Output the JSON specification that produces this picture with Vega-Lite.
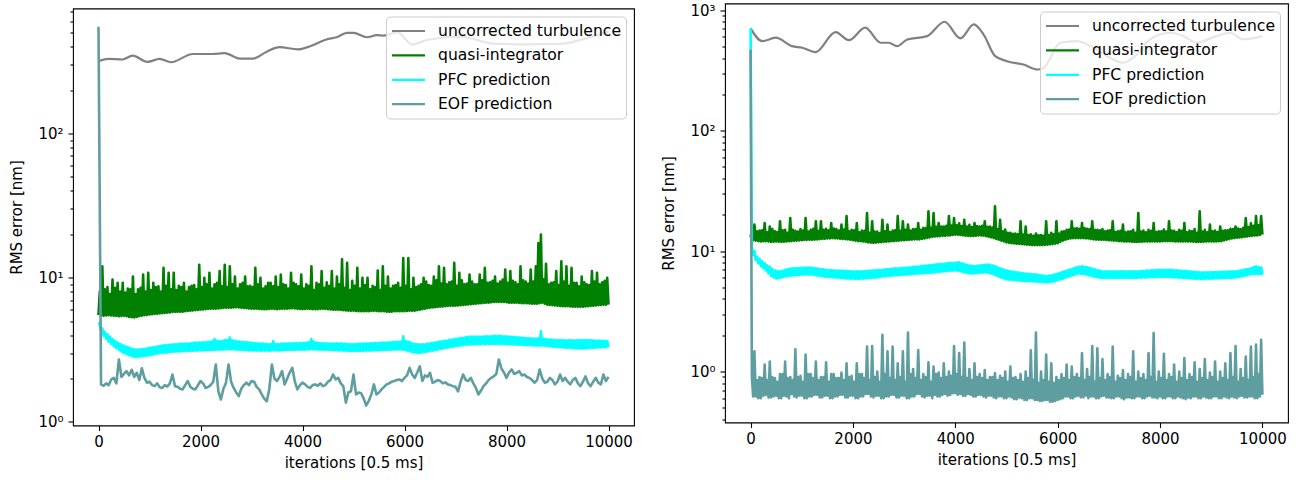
{
"$schema":"https://vega.github.io/schema/vega-lite/v6.json",
"background":"white",
"padding":{"left":9,"top":2.5,"right":5,"bottom":2},
"spacing":26,
"config":{
 "font":"DejaVu Sans",
 "view":{"stroke":"black","strokeWidth":1.1},
 "axis":{"grid":false,"domain":false,"tickColor":"black","tickWidth":1.1,"labelColor":"black","titleColor":"black","labelFontSize":15,"titleFontSize":15,"titleFontWeight":"normal","labelFont":"DejaVu Sans","titleFont":"DejaVu Sans","labelOverlap":false},
 "legend":{"orient":"top-right","offset":8,"symbolType":"M-2,0H2","symbolSize":272,"symbolStrokeWidth":2.2,"labelFontSize":15.6,"labelFont":"DejaVu Sans","labelColor":"black","labelLimit":400,"fillColor":"rgba(255,255,255,0.8)","strokeColor":"#cccccc","cornerRadius":4,"padding":5,"rowPadding":5.4,"labelOffset":20,"symbolOffset":8}
},
"resolve":{"scale":{"x":"independent","y":"independent","color":"independent"},"legend":{"color":"independent"}},
"datasets":{
"S":[{"s":1}],
"L":[
{"x":0,"u":317},{"x":200,"u":329},{"x":470,"u":326},{"x":670,"u":347},{"x":960,"u":314},{"x":1200,"u":329},{"x":1420,"u":312},{"x":1850,"u":356},{"x":2240,"u":356},{"x":2470,"u":361},{"x":2770,"u":331},{"x":3030,"u":331},{"x":3290,"u":368},{"x":3550,"u":397},{"x":3910,"u":383},{"x":4150,"u":403},{"x":4470,"u":449},{"x":4670,"u":465},{"x":4870,"u":499},{"x":5000,"u":499},{"x":5260,"u":465},{"x":5460,"u":481},{"x":5600,"u":478},{"x":5860,"u":505},{"x":6150,"u":414},{"x":6440,"u":445},{"x":7100,"u":470},{"x":7750,"u":420},{"x":8400,"u":415},{"x":9060,"u":418},{"x":9590,"u":460},{"x":9999,"u":510},
{"x":0,"q":5.5,"p":4.9,"e":550},{"x":25,"q":8.0,"p":4.75},{"x":50,"q":5.48,"p":4.3,"e":1.82},{"x":75,"q":12.0,"p":4.45},
{"x":100,"q":5.45,"p":3.95,"e":1.78},{"x":125,"q":8.3,"p":4.2},{"x":150,"q":5.47,"p":3.78,"e":1.85},{"x":175,"q":8.6,"p":4.05},
{"x":200,"q":5.5,"p":3.6,"e":1.8},{"x":225,"q":7.7,"p":3.9},{"x":250,"q":5.47,"p":3.48,"e":1.97},{"x":275,"q":9.7,"p":3.75},
{"x":300,"q":5.45,"p":3.35,"e":2.02},{"x":325,"q":8.5,"p":3.65},{"x":350,"q":5.42,"p":3.25,"e":1.85},{"x":375,"q":9.2,"p":3.55},
{"x":400,"q":5.4,"p":3.15,"e":2.71},{"x":425,"q":8.0,"p":3.48},{"x":450,"q":5.42,"p":3.07,"e":2.05},{"x":475,"q":9.2,"p":3.4},
{"x":500,"q":5.45,"p":3.0,"e":2.15},{"x":525,"q":7.9,"p":3.35},{"x":550,"q":5.4,"p":2.95,"e":2.25},{"x":575,"q":8.4,"p":3.3},
{"x":600,"q":5.35,"p":2.9,"e":2.1},{"x":625,"q":8.3,"p":3.25},{"x":650,"q":5.32,"p":2.86,"e":2.3},{"x":675,"q":10.2,"p":3.2},
{"x":700,"q":5.3,"p":2.82,"e":2.05},{"x":725,"q":7.7,"p":3.18},{"x":750,"q":5.35,"p":2.82,"e":2.19},{"x":775,"q":8.3,"p":3.18},
{"x":800,"q":5.4,"p":2.83,"e":1.95},{"x":825,"q":8.5,"p":3.19},{"x":850,"q":5.45,"p":2.85,"e":2.35},{"x":875,"q":10.5,"p":3.2},
{"x":900,"q":5.5,"p":2.86,"e":2.02},{"x":925,"q":8.0,"p":3.22},{"x":950,"q":5.52,"p":2.88,"e":1.87},{"x":975,"q":10.8,"p":3.25},
{"x":1000,"q":5.55,"p":2.9,"e":1.9},{"x":1025,"q":8.2,"p":3.28},{"x":1050,"q":5.58,"p":2.92,"e":1.8},{"x":1075,"q":9.2,"p":3.3},
{"x":1100,"q":5.6,"p":2.95,"e":1.77},{"x":1125,"q":8.6,"p":3.32},{"x":1150,"q":5.62,"p":2.97,"e":1.85},{"x":1175,"q":8.7,"p":3.35},
{"x":1200,"q":5.65,"p":3.0,"e":1.74},{"x":1225,"q":8.0,"p":3.37},{"x":1250,"q":5.68,"p":3.01,"e":1.72},{"x":1275,"q":11.7,"p":3.4},
{"x":1300,"q":5.7,"p":3.02,"e":1.8},{"x":1325,"q":8.8,"p":3.41},{"x":1350,"q":5.72,"p":3.03,"e":1.76},{"x":1375,"q":10.8,"p":3.42},
{"x":1400,"q":5.75,"p":3.05,"e":1.85},{"x":1425,"q":8.3,"p":3.44},{"x":1450,"q":5.78,"p":3.06,"e":2.13},{"x":1475,"q":10.8,"p":3.45},
{"x":1500,"q":5.8,"p":3.07,"e":1.77},{"x":1525,"q":8.2,"p":3.46},{"x":1550,"q":5.8,"p":3.07,"e":1.75},{"x":1575,"q":8.8,"p":3.48},
{"x":1600,"q":5.8,"p":3.08,"e":1.7},{"x":1625,"q":8.6,"p":3.49},{"x":1650,"q":5.82,"p":3.09,"e":1.68},{"x":1675,"q":9.2,"p":3.5},
{"x":1700,"q":5.85,"p":3.1,"e":1.8},{"x":1725,"q":8.0,"p":3.5},{"x":1750,"q":5.88,"p":3.1,"e":1.92},{"x":1775,"q":8.6,"p":3.5},
{"x":1800,"q":5.9,"p":3.1,"e":1.75},{"x":1825,"q":8.8,"p":3.52},{"x":1850,"q":5.92,"p":3.11,"e":1.7},{"x":1875,"q":8.9,"p":3.55},
{"x":1900,"q":5.95,"p":3.12,"e":1.68},{"x":1925,"q":8.3,"p":3.55},{"x":1950,"q":5.98,"p":3.12,"e":1.8},{"x":1975,"q":12.3,"p":3.55},
{"x":2000,"q":6.0,"p":3.13,"e":1.92},{"x":2025,"q":8.6,"p":3.56},{"x":2050,"q":6.02,"p":3.13,"e":1.85},{"x":2075,"q":10.0,"p":3.57},
{"x":2100,"q":6.05,"p":3.14,"e":1.72},{"x":2125,"q":9.0,"p":3.58},{"x":2150,"q":6.08,"p":3.14,"e":1.75},{"x":2175,"q":10.8,"p":3.6},
{"x":2200,"q":6.1,"p":3.15,"e":1.8},{"x":2225,"q":8.4,"p":3.62},{"x":2250,"q":6.1,"p":3.15,"e":1.9},{"x":2275,"q":9.0,"p":3.75},
{"x":2300,"q":6.1,"p":3.16,"e":2.5},{"x":2325,"q":9.2,"p":3.65},{"x":2350,"q":6.12,"p":3.16,"e":1.63},{"x":2375,"q":11.1,"p":3.62},
{"x":2400,"q":6.15,"p":3.17,"e":1.43},{"x":2425,"q":8.7,"p":3.64},{"x":2450,"q":6.18,"p":3.17,"e":1.7},{"x":2475,"q":12.3,"p":3.7},
{"x":2500,"q":6.2,"p":3.18,"e":1.87},{"x":2525,"q":8.6,"p":3.7},{"x":2550,"q":6.2,"p":3.18,"e":2.5},{"x":2575,"q":12.0,"p":3.85},
{"x":2600,"q":6.2,"p":3.18,"e":1.9},{"x":2625,"q":9.0,"p":3.68},{"x":2650,"q":6.22,"p":3.18,"e":1.72},{"x":2675,"q":10.2,"p":3.65},
{"x":2700,"q":6.25,"p":3.17,"e":1.6},{"x":2725,"q":8.4,"p":3.62},{"x":2750,"q":6.22,"p":3.16,"e":1.51},{"x":2775,"q":9.0,"p":3.6},
{"x":2800,"q":6.2,"p":3.15,"e":1.7},{"x":2825,"q":9.2,"p":3.59},{"x":2850,"q":6.18,"p":3.15,"e":1.8},{"x":2875,"q":10.2,"p":3.58},
{"x":2900,"q":6.15,"p":3.14,"e":1.87},{"x":2925,"q":8.7,"p":3.56},{"x":2950,"q":6.12,"p":3.13,"e":1.8},{"x":2975,"q":8.8,"p":3.55},
{"x":3000,"q":6.1,"p":3.13,"e":1.92},{"x":3025,"q":8.6,"p":3.53},{"x":3050,"q":6.1,"p":3.12,"e":1.9},{"x":3075,"q":11.7,"p":3.52},
{"x":3100,"q":6.1,"p":3.12,"e":1.75},{"x":3125,"q":9.0,"p":3.51},{"x":3150,"q":6.08,"p":3.12,"e":1.68},{"x":3175,"q":10.0,"p":3.5},
{"x":3200,"q":6.05,"p":3.12,"e":1.55},{"x":3225,"q":8.4,"p":3.49},{"x":3250,"q":6.05,"p":3.12,"e":1.45},{"x":3275,"q":8.7,"p":3.48},
{"x":3300,"q":6.05,"p":3.12,"e":1.39},{"x":3325,"q":9.2,"p":3.47},{"x":3350,"q":6.08,"p":3.12,"e":1.7},{"x":3375,"q":9.2,"p":3.47},
{"x":3400,"q":6.1,"p":3.13,"e":2.5},{"x":3425,"q":8.7,"p":3.62},{"x":3450,"q":6.08,"p":3.13,"e":2.0},{"x":3475,"q":10.2,"p":3.47},
{"x":3500,"q":6.05,"p":3.13,"e":1.92},{"x":3525,"q":8.6,"p":3.47},{"x":3550,"q":6.08,"p":3.13,"e":2.05},{"x":3575,"q":10.5,"p":3.48},
{"x":3600,"q":6.1,"p":3.14,"e":2.25},{"x":3625,"q":9.0,"p":3.49},{"x":3650,"q":6.1,"p":3.14,"e":1.82},{"x":3675,"q":8.9,"p":3.5},
{"x":3700,"q":6.1,"p":3.15,"e":2.0},{"x":3725,"q":8.4,"p":3.5},{"x":3750,"q":6.12,"p":3.15,"e":2.2},{"x":3775,"q":10.8,"p":3.5},
{"x":3800,"q":6.15,"p":3.15,"e":2.37},{"x":3825,"q":9.2,"p":3.51},{"x":3850,"q":6.12,"p":3.15,"e":1.9},{"x":3875,"q":9.0,"p":3.52},
{"x":3900,"q":6.1,"p":3.16,"e":1.68},{"x":3925,"q":8.7,"p":3.52},{"x":3950,"q":6.08,"p":3.16,"e":1.8},{"x":3975,"q":10.5,"p":3.52},
{"x":4000,"q":6.05,"p":3.17,"e":1.87},{"x":4025,"q":8.4,"p":3.54},{"x":4050,"q":6.08,"p":3.17,"e":1.82},{"x":4075,"q":9.0,"p":3.55},
{"x":4100,"q":6.1,"p":3.18,"e":1.75},{"x":4125,"q":8.8,"p":3.56},{"x":4150,"q":6.08,"p":3.18,"e":1.72},{"x":4175,"q":12.0,"p":3.75},
{"x":4200,"q":6.05,"p":3.18,"e":1.8},{"x":4225,"q":8.2,"p":3.6},{"x":4250,"q":6.05,"p":3.18,"e":1.82},{"x":4275,"q":9.2,"p":3.55},
{"x":4300,"q":6.05,"p":3.17,"e":1.78},{"x":4325,"q":9.0,"p":3.53},{"x":4350,"q":6.08,"p":3.17,"e":1.85},{"x":4375,"q":11.1,"p":3.52},
{"x":4400,"q":6.1,"p":3.16,"e":1.77},{"x":4425,"q":8.5,"p":3.51},{"x":4450,"q":6.08,"p":3.16,"e":1.8},{"x":4475,"q":9.3,"p":3.5},
{"x":4500,"q":6.05,"p":3.15,"e":1.9},{"x":4525,"q":8.8,"p":3.5},{"x":4550,"q":6.02,"p":3.15,"e":1.95},{"x":4575,"q":11.1,"p":3.5},
{"x":4600,"q":6.0,"p":3.14,"e":2.13},{"x":4625,"q":8.4,"p":3.5},{"x":4650,"q":6.0,"p":3.14,"e":1.97},{"x":4675,"q":10.2,"p":3.5},
{"x":4700,"q":6.0,"p":3.13,"e":2.02},{"x":4725,"q":9.0,"p":3.5},{"x":4750,"q":5.98,"p":3.13,"e":1.85},{"x":4775,"q":13.4,"p":3.5},
{"x":4800,"q":5.95,"p":3.12,"e":1.77},{"x":4825,"q":8.5,"p":3.49},{"x":4850,"q":5.92,"p":3.11,"e":1.36},{"x":4875,"q":12.7,"p":3.48},
{"x":4900,"q":5.9,"p":3.1,"e":1.6},{"x":4925,"q":8.2,"p":3.47},{"x":4950,"q":5.9,"p":3.1,"e":1.63},{"x":4975,"q":9.5,"p":3.47},
{"x":5000,"q":5.9,"p":3.1,"e":2.13},{"x":5025,"q":8.8,"p":3.47},{"x":5050,"q":5.88,"p":3.1,"e":1.55},{"x":5075,"q":11.7,"p":3.48},
{"x":5100,"q":5.85,"p":3.1,"e":1.6},{"x":5125,"q":8.4,"p":3.49},{"x":5150,"q":5.85,"p":3.1,"e":1.58},{"x":5175,"q":10.0,"p":3.5},
{"x":5200,"q":5.85,"p":3.11,"e":1.45},{"x":5225,"q":8.9,"p":3.5},{"x":5250,"q":5.85,"p":3.11,"e":1.3},{"x":5275,"q":10.0,"p":3.5},
{"x":5300,"q":5.85,"p":3.12,"e":1.4},{"x":5325,"q":8.3,"p":3.51},{"x":5350,"q":5.88,"p":3.12,"e":1.55},{"x":5375,"q":8.8,"p":3.52},
{"x":5400,"q":5.9,"p":3.13,"e":1.82},{"x":5425,"q":8.6,"p":3.52},{"x":5450,"q":5.88,"p":3.13,"e":1.55},{"x":5475,"q":11.2,"p":3.52},
{"x":5500,"q":5.85,"p":3.14,"e":1.6},{"x":5525,"q":8.2,"p":3.54},{"x":5550,"q":5.85,"p":3.14,"e":1.68},{"x":5575,"q":12.0,"p":3.55},
{"x":5600,"q":5.85,"p":3.15,"e":1.75},{"x":5625,"q":8.8,"p":3.55},{"x":5650,"q":5.82,"p":3.15,"e":1.82},{"x":5675,"q":10.2,"p":3.55},
{"x":5700,"q":5.8,"p":3.16,"e":1.85},{"x":5725,"q":8.4,"p":3.57},{"x":5750,"q":5.82,"p":3.16,"e":1.9},{"x":5775,"q":8.8,"p":3.58},
{"x":5800,"q":5.85,"p":3.17,"e":1.92},{"x":5825,"q":8.9,"p":3.59},{"x":5850,"q":5.85,"p":3.17,"e":1.95},{"x":5875,"q":9.2,"p":3.6},
{"x":5900,"q":5.85,"p":3.18,"e":1.97},{"x":5925,"q":8.5,"p":3.6},{"x":5950,"q":5.85,"p":3.17,"e":1.92},{"x":5975,"q":13.7,"p":3.93},
{"x":6000,"q":5.85,"p":3.15,"e":2.02},{"x":6025,"q":8.8,"p":3.62},{"x":6050,"q":5.88,"p":3.12,"e":2.1},{"x":6075,"q":13.7,"p":3.6},
{"x":6100,"q":5.9,"p":3.08,"e":2.37},{"x":6125,"q":8.3,"p":3.55},{"x":6150,"q":5.9,"p":3.05,"e":2.13},{"x":6175,"q":10.0,"p":3.5},
{"x":6200,"q":5.9,"p":3.02,"e":2.02},{"x":6225,"q":8.6,"p":3.47},{"x":6250,"q":5.95,"p":3.01,"e":2.2},{"x":6275,"q":8.8,"p":3.45},
{"x":6300,"q":6.0,"p":3.01,"e":2.43},{"x":6325,"q":9.0,"p":3.45},{"x":6350,"q":6.05,"p":3.03,"e":1.92},{"x":6375,"q":10.0,"p":3.45},
{"x":6400,"q":6.1,"p":3.05,"e":2.1},{"x":6425,"q":9.4,"p":3.47},{"x":6450,"q":6.15,"p":3.07,"e":2.05},{"x":6475,"q":8.9,"p":3.5},
{"x":6500,"q":6.2,"p":3.1,"e":2.19},{"x":6525,"q":8.8,"p":3.52},{"x":6550,"q":6.22,"p":3.12,"e":1.87},{"x":6575,"q":10.2,"p":3.55},
{"x":6600,"q":6.25,"p":3.15,"e":1.9},{"x":6625,"q":9.6,"p":3.57},{"x":6650,"q":6.28,"p":3.17,"e":1.95},{"x":6675,"q":12.0,"p":3.6},
{"x":6700,"q":6.3,"p":3.2,"e":1.92},{"x":6725,"q":9.1,"p":3.62},{"x":6750,"q":6.32,"p":3.22,"e":1.85},{"x":6775,"q":11.7,"p":3.65},
{"x":6800,"q":6.35,"p":3.25,"e":1.88},{"x":6825,"q":9.0,"p":3.67},{"x":6850,"q":6.38,"p":3.27,"e":1.82},{"x":6875,"q":9.3,"p":3.7},
{"x":6900,"q":6.4,"p":3.3,"e":1.8},{"x":6925,"q":9.4,"p":3.72},{"x":6950,"q":6.4,"p":3.32,"e":1.77},{"x":6975,"q":12.7,"p":3.75},
{"x":7000,"q":6.4,"p":3.35,"e":1.75},{"x":7025,"q":8.8,"p":3.77},{"x":7050,"q":6.42,"p":3.37,"e":1.63},{"x":7075,"q":10.8,"p":3.8},
{"x":7100,"q":6.45,"p":3.38,"e":1.9},{"x":7125,"q":9.6,"p":3.82},{"x":7150,"q":6.48,"p":3.4,"e":2.13},{"x":7175,"q":9.0,"p":3.85},
{"x":7200,"q":6.5,"p":3.42,"e":1.95},{"x":7225,"q":9.1,"p":3.87},{"x":7250,"q":6.52,"p":3.43,"e":1.92},{"x":7275,"q":10.5,"p":3.9},
{"x":7300,"q":6.55,"p":3.44,"e":2.02},{"x":7325,"q":9.4,"p":3.9},{"x":7350,"q":6.58,"p":3.44,"e":1.85},{"x":7375,"q":9.0,"p":3.9},
{"x":7400,"q":6.6,"p":3.45,"e":1.72},{"x":7425,"q":9.0,"p":3.9},{"x":7450,"q":6.62,"p":3.45,"e":1.55},{"x":7475,"q":10.5,"p":3.9},
{"x":7500,"q":6.65,"p":3.46,"e":1.65},{"x":7525,"q":9.6,"p":3.91},{"x":7550,"q":6.68,"p":3.46,"e":1.77},{"x":7575,"q":11.7,"p":3.92},
{"x":7600,"q":6.7,"p":3.46,"e":1.85},{"x":7625,"q":9.2,"p":3.92},{"x":7650,"q":6.72,"p":3.46,"e":1.95},{"x":7675,"q":9.3,"p":3.92},
{"x":7700,"q":6.75,"p":3.47,"e":2.02},{"x":7725,"q":9.5,"p":3.94},{"x":7750,"q":6.78,"p":3.47,"e":2.07},{"x":7775,"q":10.2,"p":3.95},
{"x":7800,"q":6.8,"p":3.47,"e":2.15},{"x":7825,"q":9.1,"p":3.95},{"x":7850,"q":6.8,"p":3.47,"e":2.71},{"x":7875,"q":9.4,"p":3.95},
{"x":7900,"q":6.8,"p":3.46,"e":2.35},{"x":7925,"q":9.7,"p":3.93},{"x":7950,"q":6.78,"p":3.46,"e":2.2},{"x":7975,"q":11.4,"p":3.92},
{"x":8000,"q":6.75,"p":3.45,"e":2.02},{"x":8025,"q":9.2,"p":3.91},{"x":8050,"q":6.72,"p":3.45,"e":2.2},{"x":8075,"q":11.1,"p":3.9},
{"x":8100,"q":6.7,"p":3.44,"e":2.31},{"x":8125,"q":9.5,"p":3.89},{"x":8150,"q":6.7,"p":3.44,"e":2.15},{"x":8175,"q":9.3,"p":3.88},
{"x":8200,"q":6.7,"p":3.43,"e":2.19},{"x":8225,"q":9.0,"p":3.86},{"x":8250,"q":6.68,"p":3.43,"e":2.25},{"x":8275,"q":12.0,"p":3.85},
{"x":8300,"q":6.65,"p":3.42,"e":2.1},{"x":8325,"q":9.6,"p":3.83},{"x":8350,"q":6.65,"p":3.41,"e":2.13},{"x":8375,"q":9.4,"p":3.82},
{"x":8400,"q":6.65,"p":3.4,"e":2.05},{"x":8425,"q":9.1,"p":3.81},{"x":8450,"q":6.62,"p":3.4,"e":2.02},{"x":8475,"q":11.4,"p":3.8},
{"x":8500,"q":6.6,"p":3.39,"e":1.95},{"x":8525,"q":9.4,"p":3.79},{"x":8550,"q":6.6,"p":3.39,"e":1.87},{"x":8575,"q":12.0,"p":3.78},
{"x":8600,"q":6.6,"p":3.38,"e":1.95},{"x":8625,"q":17.4,"p":3.8},{"x":8650,"q":6.65,"p":3.38,"e":2.31},{"x":8675,"q":19.9,"p":4.25},
{"x":8700,"q":6.7,"p":3.38,"e":2.0},{"x":8725,"q":9.8,"p":3.77},{"x":8750,"q":6.6,"p":3.37,"e":1.87},{"x":8775,"q":12.5,"p":3.75},
{"x":8800,"q":6.5,"p":3.35,"e":1.9},{"x":8825,"q":9.0,"p":3.73},{"x":8850,"q":6.48,"p":3.34,"e":2.02},{"x":8875,"q":9.2,"p":3.72},
{"x":8900,"q":6.45,"p":3.32,"e":1.95},{"x":8925,"q":9.3,"p":3.71},{"x":8950,"q":6.42,"p":3.31,"e":1.82},{"x":8975,"q":11.1,"p":3.7},
{"x":9000,"q":6.4,"p":3.3,"e":1.9},{"x":9025,"q":8.9,"p":3.7},{"x":9050,"q":6.38,"p":3.29,"e":2.13},{"x":9075,"q":13.0,"p":3.7},
{"x":9100,"q":6.35,"p":3.28,"e":1.92},{"x":9125,"q":9.4,"p":3.69},{"x":9150,"q":6.35,"p":3.27,"e":2.02},{"x":9175,"q":12.0,"p":3.68},
{"x":9200,"q":6.35,"p":3.26,"e":1.9},{"x":9225,"q":8.8,"p":3.68},{"x":9250,"q":6.32,"p":3.25,"e":1.82},{"x":9275,"q":11.7,"p":3.68},
{"x":9300,"q":6.3,"p":3.24,"e":1.95},{"x":9325,"q":9.2,"p":3.68},{"x":9350,"q":6.3,"p":3.23,"e":2.02},{"x":9375,"q":9.2,"p":3.68},
{"x":9400,"q":6.3,"p":3.22,"e":1.85},{"x":9425,"q":8.7,"p":3.69},{"x":9450,"q":6.3,"p":3.22,"e":1.77},{"x":9475,"q":10.2,"p":3.7},
{"x":9500,"q":6.3,"p":3.22,"e":1.9},{"x":9525,"q":9.3,"p":3.7},{"x":9550,"q":6.32,"p":3.23,"e":2.07},{"x":9575,"q":9.0,"p":3.7},
{"x":9600,"q":6.35,"p":3.24,"e":1.85},{"x":9625,"q":8.9,"p":3.69},{"x":9650,"q":6.38,"p":3.25,"e":1.77},{"x":9675,"q":11.1,"p":3.68},
{"x":9700,"q":6.4,"p":3.26,"e":1.9},{"x":9725,"q":9.4,"p":3.67},{"x":9750,"q":6.42,"p":3.27,"e":2.02},{"x":9775,"q":10.8,"p":3.66},
{"x":9800,"q":6.45,"p":3.28,"e":1.87},{"x":9825,"q":9.0,"p":3.66},{"x":9850,"q":6.48,"p":3.29,"e":1.82},{"x":9875,"q":9.3,"p":3.65},
{"x":9900,"q":6.5,"p":3.3,"e":2.13},{"x":9925,"q":9.5,"p":3.65},{"x":9950,"q":6.5,"p":3.3,"e":1.92},{"x":9975,"q":10.0,"p":3.64},
{"x":10000,"q":6.5,"p":3.3,"e":2.05}
],
"R":[
{"x":0,"u":706},{"x":230,"u":553},{"x":490,"u":591},{"x":810,"u":503},{"x":1010,"u":488},{"x":1270,"u":449},{"x":1660,"u":658},{"x":1920,"u":564},{"x":2240,"u":716},{"x":2540,"u":537},{"x":2700,"u":537},{"x":2860,"u":503},{"x":3060,"u":572},{"x":3450,"u":609},{"x":3790,"u":802},{"x":4100,"u":583},{"x":4360,"u":762},{"x":4550,"u":630},{"x":4780,"u":415},{"x":5010,"u":377},{"x":5330,"u":354},{"x":5600,"u":322},{"x":5720,"u":330},{"x":6050,"u":537},{"x":6370,"u":553},{"x":6760,"u":472},{"x":7020,"u":403},{"x":7280,"u":366},{"x":7550,"u":429},{"x":7800,"u":572},{"x":8200,"u":650},{"x":8460,"u":609},{"x":8710,"u":537},{"x":9100,"u":609},{"x":9370,"u":650},{"x":9630,"u":572},{"x":9999,"u":609},
{"x":0,"q":13,"p":700,"e":470},{"x":25,"q":15,"p":11,"e":0.9},{"x":50,"q":12.3,"p":9.3,"e":0.62},{"x":75,"q":16.6,"p":10.0,"e":1.47},
{"x":100,"q":12.2,"p":8.4,"e":0.62},{"x":125,"q":14.6,"p":9.0,"e":0.85},{"x":150,"q":12.1,"p":7.9,"e":0.6},{"x":175,"q":14.8,"p":8.6,"e":0.9},
{"x":200,"q":12.0,"p":7.5,"e":0.6},{"x":225,"q":14.9,"p":8.2,"e":0.88},{"x":250,"q":12.05,"p":7.2,"e":0.63},{"x":275,"q":17.1,"p":7.9,"e":1.14},
{"x":300,"q":12.1,"p":6.9,"e":0.64},{"x":325,"q":14.3,"p":7.6,"e":0.85},{"x":350,"q":12.0,"p":6.55,"e":0.61},{"x":375,"q":16.0,"p":7.4,"e":1.21},
{"x":400,"q":11.9,"p":6.2,"e":0.61},{"x":425,"q":15.2,"p":7.1,"e":0.9},{"x":450,"q":11.95,"p":6.05,"e":0.62},{"x":475,"q":14.6,"p":6.9,"e":0.88},
{"x":500,"q":12.0,"p":5.9,"e":0.63},{"x":525,"q":14.4,"p":6.85,"e":0.82},{"x":550,"q":11.95,"p":5.95,"e":0.6},{"x":575,"q":17.7,"p":6.8,"e":0.95},
{"x":600,"q":11.9,"p":6.0,"e":0.6},{"x":625,"q":14.9,"p":6.9,"e":0.95},{"x":650,"q":11.95,"p":6.08,"e":0.63},{"x":675,"q":15.0,"p":7.0,"e":1.21},
{"x":700,"q":12.0,"p":6.15,"e":0.62},{"x":725,"q":14.2,"p":7.08,"e":0.88},{"x":750,"q":12.05,"p":6.2,"e":0.6},{"x":775,"q":18.8,"p":7.15,"e":0.9},
{"x":800,"q":12.1,"p":6.25,"e":0.65},{"x":825,"q":15.0,"p":7.2,"e":0.85},{"x":850,"q":12.15,"p":6.28,"e":0.62},{"x":875,"q":14.7,"p":7.23,"e":1.53},
{"x":900,"q":12.2,"p":6.3,"e":0.61},{"x":925,"q":14.5,"p":7.24,"e":0.9},{"x":950,"q":12.25,"p":6.32,"e":0.63},{"x":975,"q":15.2,"p":7.25,"e":0.92},
{"x":1000,"q":12.3,"p":6.35,"e":0.63},{"x":1025,"q":14.8,"p":7.28,"e":0.82},{"x":1050,"q":12.35,"p":6.38,"e":0.6},{"x":1075,"q":18.8,"p":7.3,"e":1.38},
{"x":1100,"q":12.4,"p":6.4,"e":0.6},{"x":1125,"q":14.5,"p":7.3,"e":0.95},{"x":1150,"q":12.4,"p":6.38,"e":0.62},{"x":1175,"q":15.0,"p":7.3,"e":0.95},
{"x":1200,"q":12.4,"p":6.35,"e":0.62},{"x":1225,"q":15.3,"p":7.25,"e":0.88},{"x":1250,"q":12.45,"p":6.3,"e":0.64},{"x":1275,"q":17.7,"p":7.2,"e":1.21},
{"x":1300,"q":12.5,"p":6.25,"e":0.64},{"x":1325,"q":14.7,"p":7.15,"e":0.85},{"x":1350,"q":12.55,"p":6.2,"e":0.61},{"x":1375,"q":17.7,"p":7.1,"e":0.9},
{"x":1400,"q":12.6,"p":6.15,"e":0.61},{"x":1425,"q":15.0,"p":7.05,"e":0.9},{"x":1450,"q":12.65,"p":6.12,"e":0.63},{"x":1475,"q":15.3,"p":7.0,"e":1.19},
{"x":1500,"q":12.7,"p":6.1,"e":0.63},{"x":1525,"q":14.9,"p":6.97,"e":0.82},{"x":1550,"q":12.75,"p":6.08,"e":0.6},{"x":1575,"q":17.1,"p":6.95,"e":0.95},
{"x":1600,"q":12.8,"p":6.05,"e":0.6},{"x":1625,"q":15.4,"p":6.92,"e":0.95},{"x":1650,"q":12.75,"p":6.02,"e":0.62},{"x":1675,"q":15.2,"p":6.9,"e":0.88},
{"x":1700,"q":12.7,"p":6.0,"e":0.62},{"x":1725,"q":14.8,"p":6.89,"e":0.88},{"x":1750,"q":12.65,"p":5.98,"e":0.64},{"x":1775,"q":16.6,"p":6.88,"e":0.98},
{"x":1800,"q":12.6,"p":5.95,"e":0.64},{"x":1825,"q":15.1,"p":6.86,"e":0.85},{"x":1850,"q":12.55,"p":5.92,"e":0.61},{"x":1875,"q":19.5,"p":6.85,"e":1.17},
{"x":1900,"q":12.5,"p":5.9,"e":0.61},{"x":1925,"q":14.6,"p":6.82,"e":0.9},{"x":1950,"q":12.4,"p":5.89,"e":0.63},{"x":1975,"q":15.0,"p":6.8,"e":0.92},
{"x":2000,"q":12.3,"p":5.88,"e":0.63},{"x":2025,"q":14.9,"p":6.79,"e":0.82},{"x":2050,"q":12.2,"p":5.87,"e":0.6},{"x":2075,"q":17.1,"p":6.78,"e":1.17},
{"x":2100,"q":12.1,"p":5.86,"e":0.6},{"x":2125,"q":14.3,"p":6.79,"e":0.95},{"x":2150,"q":12.05,"p":5.88,"e":0.62},{"x":2175,"q":14.8,"p":6.8,"e":0.95},
{"x":2200,"q":12.0,"p":5.9,"e":0.62},{"x":2225,"q":14.7,"p":6.82,"e":0.88},{"x":2250,"q":11.9,"p":5.92,"e":0.65},{"x":2275,"q":20.7,"p":6.85,"e":1.61},
{"x":2300,"q":11.8,"p":5.95,"e":0.65},{"x":2325,"q":14.2,"p":6.88,"e":0.85},{"x":2350,"q":11.75,"p":5.98,"e":0.62},{"x":2375,"q":17.7,"p":6.9,"e":1.63},
{"x":2400,"q":11.7,"p":6.0,"e":0.61},{"x":2425,"q":14.5,"p":6.92,"e":0.9},{"x":2450,"q":11.75,"p":6.02,"e":0.63},{"x":2475,"q":14.5,"p":6.95,"e":1.0},
{"x":2500,"q":11.8,"p":6.05,"e":0.63},{"x":2525,"q":14.1,"p":6.97,"e":0.82},{"x":2550,"q":11.85,"p":6.1,"e":0.6},{"x":2575,"q":18.2,"p":7.0,"e":2.02},
{"x":2600,"q":11.9,"p":6.15,"e":0.6},{"x":2625,"q":14.6,"p":7.05,"e":0.95},{"x":2650,"q":11.95,"p":6.18,"e":0.62},{"x":2675,"q":16.6,"p":7.1,"e":1.47},
{"x":2700,"q":12.0,"p":6.2,"e":0.62},{"x":2725,"q":14.4,"p":7.12,"e":0.88},{"x":2750,"q":12.05,"p":6.22,"e":0.64},{"x":2775,"q":14.8,"p":7.15,"e":1.61},
{"x":2800,"q":12.1,"p":6.25,"e":0.64},{"x":2825,"q":14.9,"p":7.18,"e":0.85},{"x":2850,"q":12.15,"p":6.28,"e":0.61},{"x":2875,"q":19.5,"p":7.2,"e":1.17},
{"x":2900,"q":12.2,"p":6.3,"e":0.61},{"x":2925,"q":14.7,"p":7.22,"e":0.9},{"x":2950,"q":12.25,"p":6.32,"e":0.63},{"x":2975,"q":17.7,"p":7.25,"e":1.47},
{"x":3000,"q":12.3,"p":6.35,"e":0.63},{"x":3025,"q":15.0,"p":7.28,"e":0.82},{"x":3050,"q":12.35,"p":6.38,"e":0.6},{"x":3075,"q":16.6,"p":7.3,"e":2.11},
{"x":3100,"q":12.4,"p":6.4,"e":0.6},{"x":3125,"q":14.8,"p":7.35,"e":0.95},{"x":3150,"q":12.45,"p":6.42,"e":0.62},{"x":3175,"q":15.2,"p":7.4,"e":1.05},
{"x":3200,"q":12.5,"p":6.45,"e":0.62},{"x":3225,"q":15.2,"p":7.42,"e":0.88},{"x":3250,"q":12.5,"p":6.48,"e":0.65},{"x":3275,"q":17.1,"p":7.45,"e":1.51},
{"x":3300,"q":12.5,"p":6.5,"e":0.65},{"x":3325,"q":15.0,"p":7.5,"e":0.85},{"x":3350,"q":12.6,"p":6.52,"e":0.62},{"x":3375,"q":15.6,"p":7.55,"e":0.95},
{"x":3400,"q":12.7,"p":6.55,"e":0.61},{"x":3425,"q":15.5,"p":7.58,"e":0.9},{"x":3450,"q":12.85,"p":6.57,"e":0.63},{"x":3475,"q":21.4,"p":7.6,"e":1.19},
{"x":3500,"q":13.0,"p":6.58,"e":0.63},{"x":3525,"q":15.6,"p":7.65,"e":0.82},{"x":3550,"q":13.1,"p":6.6,"e":0.6},{"x":3575,"q":20.7,"p":7.7,"e":1.1},
{"x":3600,"q":13.2,"p":6.65,"e":0.64},{"x":3625,"q":15.9,"p":7.75,"e":0.95},{"x":3650,"q":13.25,"p":6.68,"e":0.62},{"x":3675,"q":17.1,"p":7.8,"e":0.98},
{"x":3700,"q":13.3,"p":6.7,"e":0.62},{"x":3725,"q":16.0,"p":7.82,"e":0.88},{"x":3750,"q":13.35,"p":6.75,"e":0.64},{"x":3775,"q":16.0,"p":7.85,"e":1.17},
{"x":3800,"q":13.4,"p":6.8,"e":0.65},{"x":3825,"q":16.2,"p":7.9,"e":0.9},{"x":3850,"q":13.45,"p":6.82,"e":0.63},{"x":3875,"q":19.5,"p":7.95,"e":1.0},
{"x":3900,"q":13.5,"p":6.85,"e":0.64},{"x":3925,"q":16.3,"p":7.98,"e":0.92},{"x":3950,"q":13.6,"p":6.88,"e":0.66},{"x":3975,"q":18.8,"p":8.0,"e":1.63},
{"x":4000,"q":13.7,"p":6.9,"e":0.66},{"x":4025,"q":16.4,"p":8.03,"e":0.95},{"x":4050,"q":13.65,"p":6.85,"e":0.64},{"x":4075,"q":17.0,"p":8.06,"e":1.42},
{"x":4100,"q":13.6,"p":6.8,"e":0.65},{"x":4125,"q":16.1,"p":7.9,"e":0.9},{"x":4150,"q":13.5,"p":6.7,"e":0.63},{"x":4175,"q":18.2,"p":7.8,"e":1.74},
{"x":4200,"q":13.4,"p":6.6,"e":0.63},{"x":4225,"q":16.0,"p":7.7,"e":0.88},{"x":4250,"q":13.35,"p":6.55,"e":0.65},{"x":4275,"q":16.5,"p":7.6,"e":1.05},
{"x":4300,"q":13.3,"p":6.5,"e":0.64},{"x":4325,"q":15.8,"p":7.55,"e":0.85},{"x":4350,"q":13.35,"p":6.52,"e":0.62},{"x":4375,"q":17.1,"p":7.5,"e":1.17},
{"x":4400,"q":13.4,"p":6.55,"e":0.62},{"x":4425,"q":16.1,"p":7.55,"e":0.9},{"x":4450,"q":13.45,"p":6.58,"e":0.64},{"x":4475,"q":16.0,"p":7.6,"e":0.95},
{"x":4500,"q":13.5,"p":6.6,"e":0.64},{"x":4525,"q":16.2,"p":7.65,"e":0.88},{"x":4550,"q":13.4,"p":6.62,"e":0.62},{"x":4575,"q":17.7,"p":7.7,"e":1.03},
{"x":4600,"q":13.3,"p":6.65,"e":0.61},{"x":4625,"q":15.9,"p":7.72,"e":0.85},{"x":4650,"q":13.15,"p":6.58,"e":0.63},{"x":4675,"q":16.0,"p":7.71,"e":0.9},
{"x":4700,"q":13.0,"p":6.5,"e":0.63},{"x":4725,"q":15.7,"p":7.6,"e":0.9},{"x":4750,"q":12.8,"p":6.38,"e":0.61},{"x":4775,"q":23.5,"p":7.5,"e":0.97},
{"x":4800,"q":12.6,"p":6.25,"e":0.6},{"x":4825,"q":15.2,"p":7.35,"e":0.85},{"x":4850,"q":12.4,"p":6.12,"e":0.62},{"x":4875,"q":18.2,"p":7.2,"e":0.92},
{"x":4900,"q":12.2,"p":6.0,"e":0.62},{"x":4925,"q":14.6,"p":7.08,"e":0.88},{"x":4950,"q":12.0,"p":5.9,"e":0.6},{"x":4975,"q":15.1,"p":6.95,"e":1.0},
{"x":5000,"q":11.8,"p":5.8,"e":0.6},{"x":5025,"q":14.2,"p":6.88,"e":0.82},{"x":5050,"q":11.7,"p":5.78,"e":0.62},{"x":5075,"q":14.2,"p":6.8,"e":1.1},
{"x":5100,"q":11.6,"p":5.75,"e":0.61},{"x":5125,"q":13.9,"p":6.75,"e":0.88},{"x":5150,"q":11.55,"p":5.72,"e":0.59},{"x":5175,"q":14.0,"p":6.7,"e":0.9},
{"x":5200,"q":11.5,"p":5.7,"e":0.59},{"x":5225,"q":13.8,"p":6.65,"e":0.85},{"x":5250,"q":11.45,"p":5.68,"e":0.61},{"x":5275,"q":17.7,"p":6.6,"e":0.95},
{"x":5300,"q":11.4,"p":5.65,"e":0.6},{"x":5325,"q":13.7,"p":6.55,"e":0.82},{"x":5350,"q":11.35,"p":5.62,"e":0.58},{"x":5375,"q":16.0,"p":6.5,"e":1.0},
{"x":5400,"q":11.3,"p":5.6,"e":0.58},{"x":5425,"q":13.6,"p":6.48,"e":0.88},{"x":5450,"q":11.25,"p":5.6,"e":0.6},{"x":5475,"q":13.8,"p":6.45,"e":1.5},
{"x":5500,"q":11.2,"p":5.6,"e":0.6},{"x":5525,"q":13.4,"p":6.42,"e":0.85},{"x":5550,"q":11.2,"p":5.58,"e":0.58},{"x":5575,"q":14.0,"p":6.4,"e":2.11},
{"x":5600,"q":11.2,"p":5.55,"e":0.58},{"x":5625,"q":13.5,"p":6.35,"e":0.8},{"x":5650,"q":11.2,"p":5.52,"e":0.57},{"x":5675,"q":13.6,"p":6.3,"e":1.0},
{"x":5700,"q":11.2,"p":5.5,"e":0.57},{"x":5725,"q":13.4,"p":6.25,"e":0.85},{"x":5750,"q":11.25,"p":5.5,"e":0.58},{"x":5775,"q":17.7,"p":6.2,"e":1.38},
{"x":5800,"q":11.3,"p":5.49,"e":0.58},{"x":5825,"q":13.6,"p":6.25,"e":0.82},{"x":5850,"q":11.35,"p":5.52,"e":0.56},{"x":5875,"q":14.2,"p":6.3,"e":1.17},
{"x":5900,"q":11.4,"p":5.55,"e":0.56},{"x":5925,"q":13.8,"p":6.38,"e":0.8},{"x":5950,"q":11.5,"p":5.62,"e":0.57},{"x":5975,"q":17.7,"p":6.45,"e":0.9},
{"x":6000,"q":11.6,"p":5.7,"e":0.58},{"x":6025,"q":14.0,"p":6.55,"e":0.85},{"x":6050,"q":11.9,"p":5.8,"e":0.59},{"x":6075,"q":14.5,"p":6.65,"e":0.95},
{"x":6100,"q":12.2,"p":5.9,"e":0.6},{"x":6125,"q":14.6,"p":6.78,"e":0.88},{"x":6150,"q":12.4,"p":6.0,"e":0.62},{"x":6175,"q":15.0,"p":6.9,"e":1.14},
{"x":6200,"q":12.6,"p":6.1,"e":0.62},{"x":6225,"q":15.1,"p":7.0,"e":0.85},{"x":6250,"q":12.7,"p":6.2,"e":0.6},{"x":6275,"q":17.7,"p":7.1,"e":1.1},
{"x":6300,"q":12.8,"p":6.3,"e":0.6},{"x":6325,"q":15.4,"p":7.22,"e":0.9},{"x":6350,"q":12.8,"p":6.4,"e":0.62},{"x":6375,"q":15.5,"p":7.35,"e":0.95},
{"x":6400,"q":12.8,"p":6.49,"e":0.63},{"x":6425,"q":15.3,"p":7.42,"e":0.88},{"x":6450,"q":12.8,"p":6.47,"e":0.61},{"x":6475,"q":17.1,"p":7.46,"e":1.42},
{"x":6500,"q":12.8,"p":6.45,"e":0.61},{"x":6525,"q":15.5,"p":7.4,"e":0.85},{"x":6550,"q":12.75,"p":6.38,"e":0.63},{"x":6575,"q":15.3,"p":7.35,"e":1.05},
{"x":6600,"q":12.7,"p":6.3,"e":0.6},{"x":6625,"q":15.2,"p":7.25,"e":0.9},{"x":6650,"q":12.6,"p":6.22,"e":0.62},{"x":6675,"q":17.7,"p":7.15,"e":1.63},
{"x":6700,"q":12.5,"p":6.15,"e":0.62},{"x":6725,"q":15.0,"p":7.05,"e":0.82},{"x":6750,"q":12.45,"p":6.08,"e":0.6},{"x":6775,"q":15.0,"p":6.95,"e":1.56},
{"x":6800,"q":12.4,"p":6.0,"e":0.6},{"x":6825,"q":14.9,"p":6.88,"e":0.88},{"x":6850,"q":12.4,"p":5.98,"e":0.62},{"x":6875,"q":15.2,"p":6.8,"e":1.27},
{"x":6900,"q":12.4,"p":5.97,"e":0.63},{"x":6925,"q":14.6,"p":6.79,"e":0.85},{"x":6950,"q":12.35,"p":5.97,"e":0.61},{"x":6975,"q":14.8,"p":6.78,"e":0.95},
{"x":7000,"q":12.3,"p":5.97,"e":0.61},{"x":7025,"q":14.9,"p":6.78,"e":0.9},{"x":7050,"q":12.25,"p":5.97,"e":0.6},{"x":7075,"q":17.7,"p":6.78,"e":1.61},
{"x":7100,"q":12.2,"p":5.97,"e":0.6},{"x":7125,"q":14.4,"p":6.78,"e":0.82},{"x":7150,"q":12.15,"p":5.97,"e":0.62},{"x":7175,"q":14.6,"p":6.78,"e":0.92},
{"x":7200,"q":12.1,"p":5.97,"e":0.62},{"x":7225,"q":14.7,"p":6.78,"e":0.88},{"x":7250,"q":12.05,"p":5.97,"e":0.6},{"x":7275,"q":16.6,"p":6.78,"e":1.03},
{"x":7300,"q":12.0,"p":5.97,"e":0.59},{"x":7325,"q":14.3,"p":6.78,"e":0.85},{"x":7350,"q":12.0,"p":5.97,"e":0.61},{"x":7375,"q":14.5,"p":6.78,"e":0.95},
{"x":7400,"q":12.0,"p":5.97,"e":0.61},{"x":7425,"q":14.6,"p":6.78,"e":0.9},{"x":7450,"q":11.95,"p":5.97,"e":0.6},{"x":7475,"q":15.0,"p":6.78,"e":1.47},
{"x":7500,"q":11.9,"p":5.97,"e":0.6},{"x":7525,"q":14.2,"p":6.79,"e":0.82},{"x":7550,"q":11.9,"p":5.98,"e":0.62},{"x":7575,"q":20.7,"p":6.8,"e":1.0},
{"x":7600,"q":11.9,"p":6.0,"e":0.62},{"x":7625,"q":14.5,"p":6.82,"e":0.88},{"x":7650,"q":11.95,"p":6.01,"e":0.6},{"x":7675,"q":14.8,"p":6.85,"e":0.95},
{"x":7700,"q":12.0,"p":6.02,"e":0.6},{"x":7725,"q":14.3,"p":6.88,"e":0.85},{"x":7750,"q":12.0,"p":6.04,"e":0.62},{"x":7775,"q":15.0,"p":6.9,"e":1.42},
{"x":7800,"q":12.0,"p":6.05,"e":0.63},{"x":7825,"q":14.7,"p":6.92,"e":0.9},{"x":7850,"q":12.0,"p":6.06,"e":0.61},{"x":7875,"q":17.1,"p":6.95,"e":2.09},
{"x":7900,"q":12.0,"p":6.07,"e":0.61},{"x":7925,"q":14.4,"p":6.96,"e":0.82},{"x":7950,"q":12.0,"p":6.08,"e":0.6},{"x":7975,"q":14.6,"p":6.98,"e":1.0},
{"x":8000,"q":12.0,"p":6.08,"e":0.62},{"x":8025,"q":14.6,"p":6.99,"e":0.88},{"x":8050,"q":12.05,"p":6.09,"e":0.6},{"x":8075,"q":15.1,"p":7.0,"e":1.4},
{"x":8100,"q":12.1,"p":6.09,"e":0.6},{"x":8125,"q":14.5,"p":7.0,"e":0.85},{"x":8150,"q":12.1,"p":6.08,"e":0.62},{"x":8175,"q":17.7,"p":7.0,"e":0.95},
{"x":8200,"q":12.1,"p":6.07,"e":0.62},{"x":8225,"q":14.8,"p":6.98,"e":0.9},{"x":8250,"q":12.05,"p":6.05,"e":0.6},{"x":8275,"q":14.7,"p":6.95,"e":1.14},
{"x":8300,"q":12.0,"p":6.03,"e":0.6},{"x":8325,"q":14.4,"p":6.92,"e":0.82},{"x":8350,"q":12.0,"p":6.02,"e":0.62},{"x":8375,"q":15.0,"p":6.9,"e":1.0},
{"x":8400,"q":12.0,"p":6.0,"e":0.61},{"x":8425,"q":14.7,"p":6.88,"e":0.88},{"x":8450,"q":12.0,"p":5.98,"e":0.6},{"x":8475,"q":17.1,"p":6.85,"e":1.29},
{"x":8500,"q":12.0,"p":5.97,"e":0.59},{"x":8525,"q":14.3,"p":6.82,"e":0.85},{"x":8550,"q":12.0,"p":5.95,"e":0.61},{"x":8575,"q":14.8,"p":6.8,"e":0.95},
{"x":8600,"q":12.0,"p":5.92,"e":0.6},{"x":8625,"q":14.6,"p":6.76,"e":0.9},{"x":8650,"q":11.95,"p":5.9,"e":0.62},{"x":8675,"q":15.2,"p":6.72,"e":1.19},
{"x":8700,"q":11.9,"p":5.88,"e":0.62},{"x":8725,"q":14.2,"p":6.7,"e":0.82},{"x":8750,"q":11.9,"p":5.87,"e":0.6},{"x":8775,"q":21.4,"p":6.68,"e":1.05},
{"x":8800,"q":11.9,"p":5.86,"e":0.6},{"x":8825,"q":14.5,"p":6.66,"e":0.88},{"x":8850,"q":11.95,"p":5.87,"e":0.62},{"x":8875,"q":15.0,"p":6.65,"e":1.27},
{"x":8900,"q":12.0,"p":5.88,"e":0.61},{"x":8925,"q":14.3,"p":6.66,"e":0.85},{"x":8950,"q":12.0,"p":5.89,"e":0.6},{"x":8975,"q":16.6,"p":6.68,"e":0.98},
{"x":9000,"q":12.0,"p":5.9,"e":0.6},{"x":9025,"q":14.6,"p":6.69,"e":0.9},{"x":9050,"q":12.0,"p":5.91,"e":0.62},{"x":9075,"q":14.8,"p":6.7,"e":1.21},
{"x":9100,"q":12.0,"p":5.92,"e":0.62},{"x":9125,"q":14.4,"p":6.72,"e":0.82},{"x":9150,"q":12.05,"p":5.93,"e":0.6},{"x":9175,"q":16.0,"p":6.73,"e":1.0},
{"x":9200,"q":12.1,"p":5.95,"e":0.6},{"x":9225,"q":14.7,"p":6.74,"e":0.88},{"x":9250,"q":12.25,"p":5.96,"e":0.62},{"x":9275,"q":14.9,"p":6.75,"e":1.17},
{"x":9300,"q":12.4,"p":5.97,"e":0.61},{"x":9325,"q":14.9,"p":6.77,"e":0.85},{"x":9350,"q":12.55,"p":5.97,"e":0.6},{"x":9375,"q":15.3,"p":6.78,"e":1.42},
{"x":9400,"q":12.7,"p":5.98,"e":0.62},{"x":9425,"q":15.2,"p":6.79,"e":0.9},{"x":9450,"q":12.8,"p":6.0,"e":0.61},{"x":9475,"q":16.0,"p":6.8,"e":1.63},
{"x":9500,"q":12.9,"p":6.05,"e":0.6},{"x":9525,"q":15.4,"p":6.85,"e":0.82},{"x":9550,"q":12.95,"p":6.1,"e":0.62},{"x":9575,"q":15.2,"p":6.9,"e":1.05},
{"x":9600,"q":13.0,"p":6.15,"e":0.63},{"x":9625,"q":15.6,"p":6.98,"e":0.88},{"x":9650,"q":13.1,"p":6.22,"e":0.61},{"x":9675,"q":18.8,"p":7.05,"e":1.33},
{"x":9700,"q":13.2,"p":6.3,"e":0.61},{"x":9725,"q":15.8,"p":7.12,"e":0.85},{"x":9750,"q":13.3,"p":6.38,"e":0.62},{"x":9775,"q":17.0,"p":7.2,"e":1.61},
{"x":9800,"q":13.4,"p":6.45,"e":0.62},{"x":9825,"q":16.2,"p":7.35,"e":0.9},{"x":9850,"q":13.45,"p":6.45,"e":0.6},{"x":9875,"q":19.5,"p":7.46,"e":1.67},
{"x":9900,"q":13.5,"p":6.45,"e":0.6},{"x":9925,"q":16.4,"p":7.38,"e":0.95},{"x":9950,"q":13.6,"p":6.42,"e":0.62},{"x":9975,"q":19.5,"p":7.3,"e":1.83},
{"x":10000,"q":13.7,"p":6.37,"e":0.64}
]
},
"hconcat":[
{
 "spacing":0,
 "resolve":{"scale":{"x":"independent","y":"independent","color":"independent"},"legend":{"color":"independent"}},
 "vconcat":[
  {"width":1,"height":3.3,"data":{"name":"S"},"view":{"stroke":null},"mark":{"type":"point","opacity":0,"size":0},"encoding":{}},
  {
   "width":561,"height":417,
   "data":{"name":"L"},
   "transform":[{"fold":["u","q","p","e"],"as":["k","v"]},{"filter":"isValid(datum.v)"}],
   "encoding":{
    "x":{"field":"x","type":"quantitative","scale":{"domain":[-500,10500],"nice":false,"zero":false},"axis":{"values":[0,2000,4000,6000,8000,10000],"format":"d","title":"iterations [0.5 ms]","tickSize":5,"labelPadding":4,"titlePadding":6}},
    "y":{"field":"v","type":"quantitative","scale":{"type":"log","domain":[0.944,736],"nice":false},"axis":{"title":"RMS error [nm]","values":[1,2,3,4,5,6,7,8,9,10,20,30,40,50,60,70,80,90,100,200,300,400,500,600,700],"labelExpr":"datum.value == 1 ? '10⁰' : datum.value == 10 ? '10¹' : datum.value == 100 ? '10²' : datum.value == 1000 ? '10³' : ''","labelFontSize":{"condition":{"test":"datum.value == 1 || datum.value == 10 || datum.value == 100 || datum.value == 1000","value":15},"value":0},"tickSize":{"condition":{"test":"datum.value == 1 || datum.value == 10 || datum.value == 100 || datum.value == 1000","value":5},"value":3},"labelPadding":5,"titlePadding":13}},
    "color":{"field":"k","type":"nominal","scale":{"domain":["u","q","p","e"],"range":["#808080","#008000","#00ffff","#5f9ea0"]},"legend":{"title":null,"labelExpr":"datum.label == 'u' ? 'uncorrected turbulence' : datum.label == 'q' ? 'quasi-integrator' : datum.label == 'p' ? 'PFC prediction' : 'EOF prediction'"}}
   },
   "layer":[
    {"transform":[{"filter":"datum.k == 'u'"}],"mark":{"type":"line","interpolate":"monotone","strokeWidth":2.2,"strokeJoin":"round","clip":true}},
    {"transform":[{"filter":"datum.k != 'u'"}],"mark":{"type":"line","strokeWidth":2.6,"strokeJoin":"round","clip":true}}
   ]
  }
 ]
},
{
 "width":563,"height":419,
 "data":{"name":"R"},
 "transform":[{"fold":["u","q","p","e"],"as":["k","v"]},{"filter":"isValid(datum.v)"}],
 "encoding":{
  "x":{"field":"x","type":"quantitative","scale":{"domain":[-500,10500],"nice":false,"zero":false},"axis":{"values":[0,2000,4000,6000,8000,10000],"format":"d","title":"iterations [0.5 ms]","tickSize":5,"labelPadding":4,"titlePadding":6}},
  "y":{"field":"v","type":"quantitative","scale":{"type":"log","domain":[0.377,1137],"nice":false},"axis":{"title":"RMS error [nm]","values":[0.4,0.5,0.6,0.7,0.8,0.9,1,2,3,4,5,6,7,8,9,10,20,30,40,50,60,70,80,90,100,200,300,400,500,600,700,800,900,1000],"labelExpr":"datum.value == 1 ? '10⁰' : datum.value == 10 ? '10¹' : datum.value == 100 ? '10²' : datum.value == 1000 ? '10³' : ''","labelFontSize":{"condition":{"test":"datum.value == 1 || datum.value == 10 || datum.value == 100 || datum.value == 1000","value":15},"value":0},"tickSize":{"condition":{"test":"datum.value == 1 || datum.value == 10 || datum.value == 100 || datum.value == 1000","value":5},"value":3},"labelPadding":5,"titlePadding":13}},
  "color":{"field":"k","type":"nominal","scale":{"domain":["u","q","p","e"],"range":["#808080","#008000","#00ffff","#5f9ea0"]},"legend":{"title":null,"labelExpr":"datum.label == 'u' ? 'uncorrected turbulence' : datum.label == 'q' ? 'quasi-integrator' : datum.label == 'p' ? 'PFC prediction' : 'EOF prediction'"}}
 },
 "layer":[
  {"transform":[{"filter":"datum.k == 'u'"}],"mark":{"type":"line","interpolate":"monotone","strokeWidth":2.2,"strokeJoin":"round","clip":true}},
  {"transform":[{"filter":"datum.k != 'u'"}],"mark":{"type":"line","strokeWidth":2.6,"strokeJoin":"round","clip":true}}
 ]
}
]
}
